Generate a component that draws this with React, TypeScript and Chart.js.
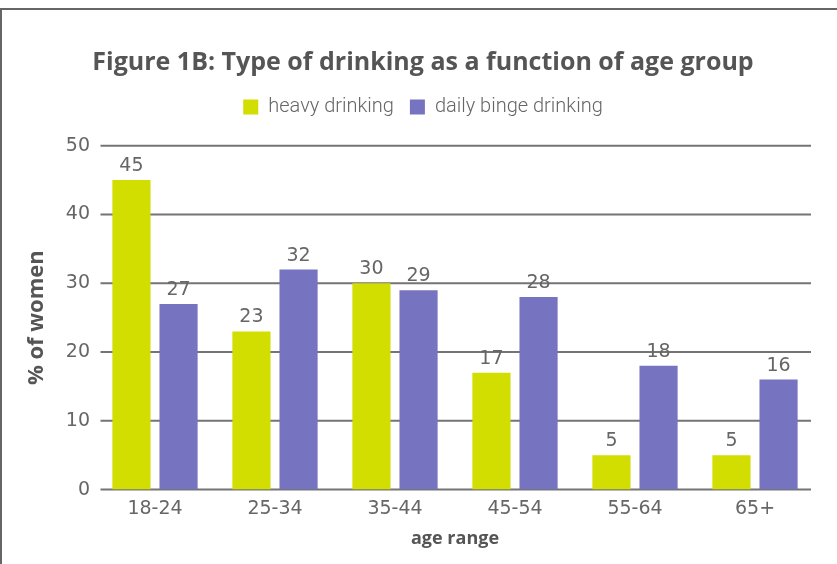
import React, { useEffect, useRef } from "react";
import { Chart, registerables } from "chart.js";

Chart.register(...registerables);

const categories = ["18-24", "25-34", "35-44", "45-54", "55-64", "65+"];
const heavyDrinking = [45, 23, 30, 17, 5, 5];
const dailyBinge = [27, 32, 29, 28, 18, 16];
const yTicks = [0, 10, 20, 30, 40, 50];
const seriesNames = ["heavy drinking", "daily binge drinking"];
const titleText = "Figure 1B: Type of drinking as a function of age group";

const YELLOW = "#d2de00";
const PURPLE = "#7673c0";
const NUM_FONT = "'DejaVu Sans', sans-serif";
const BOLD_FONT = "'Open Sans', sans-serif";

const gridPlugin = {
  id: "customGrid",
  beforeDatasetsDraw(chart: any) {
    const { ctx, chartArea, scales } = chart;
    const y = scales.y;
    ctx.save();
    ctx.strokeStyle = "#747474";
    ctx.lineWidth = 2;
    yTicks.forEach((t) => {
      const py = y.getPixelForValue(t);
      ctx.beginPath();
      ctx.moveTo(chartArea.left + 5.5, py);
      ctx.lineTo(chartArea.right - 4, py);
      ctx.stroke();
    });
    ctx.restore();
  },
};

const labelPlugin = {
  id: "valueLabels",
  afterDatasetsDraw(chart: any) {
    const { ctx } = chart;
    ctx.save();
    ctx.fillStyle = "#666";
    ctx.font = `19px ${NUM_FONT}`;
    ctx.textAlign = "center";
    ctx.textBaseline = "alphabetic";
    chart.data.datasets.forEach((ds: any, i: number) => {
      const meta = chart.getDatasetMeta(i);
      meta.data.forEach((bar: any, j: number) => {
        ctx.fillText(String(ds.data[j]), bar.x, bar.y - 9);
      });
    });
    ctx.restore();
  },
};

const legendSpacer = {
  id: "legendSpacer",
  afterInit(chart: any) {
    const legend = chart.legend;
    if (!legend) return;
    const origFit = legend.fit;
    legend.fit = function fit() {
      origFit.call(legend);
      legend.height += 18.7;
    };
  },
};

export default function App() {
  const ref = useRef<HTMLCanvasElement>(null);
  useEffect(() => {
    if (!ref.current) return;
    const chart = new Chart(ref.current, {
      type: "bar",
      data: {
        labels: categories,
        datasets: [
          {
            label: seriesNames[0],
            data: heavyDrinking,
            backgroundColor: YELLOW,
            categoryPercentage: 0.785,
            barPercentage: 0.81,
          },
          {
            label: seriesNames[1],
            data: dailyBinge,
            backgroundColor: PURPLE,
            categoryPercentage: 0.785,
            barPercentage: 0.81,
          },
        ],
      },
      options: {
        responsive: false,
        animation: false,
        layout: { padding: { left: 31, right: 22, top: 48, bottom: 14 } },
        plugins: {
          title: {
            display: true,
            text: titleText,
            color: "#555",
            font: { family: BOLD_FONT, weight: "bold", size: 25 },
            padding: { top: 0, bottom: 3 },
          },
          legend: {
            display: true,
            labels: {
              color: "#666",
              font: { family: "Roboto", weight: "300", size: 20 },
              boxWidth: 15,
              boxHeight: 15,
              padding: 16,
            },
          },
          tooltip: { enabled: false },
        },
        scales: {
          x: {
            grid: { display: false, drawTicks: false },
            border: { display: false },
            ticks: {
              color: "#666",
              font: { family: NUM_FONT, size: 19 },
              padding: 8,
            },
            title: {
              display: true,
              text: "age range",
              color: "#555",
              font: { family: BOLD_FONT, weight: "bold", size: 18 },
              padding: { top: 0, bottom: 0 },
            },
          },
          y: {
            min: 0,
            max: 50,
            afterBuildTicks: (scale: any) => {
              scale.ticks = yTicks.map((v) => ({ value: v }));
            },
            afterFit: (scale: any) => {
              scale.width = 64;
            },
            grid: { display: false, drawTicks: false },
            border: { display: false },
            ticks: {
              color: "#666",
              font: { family: NUM_FONT, size: 19 },
              padding: 5,
            },
            title: {
              display: true,
              text: "% of women",
              color: "#555",
              font: { family: BOLD_FONT, weight: "bold", size: 22 },
              padding: { top: -7.2, bottom: 0 },
            },
          },
        },
      },
      plugins: [gridPlugin, labelPlugin, legendSpacer],
    });
    return () => chart.destroy();
  }, []);

  return (
    <div
      style={{
        position: "fixed",
        left: 0,
        top: 0,
        width: 837,
        height: 564,
        overflow: "hidden",
        background: "#fff",
      }}
    >
      <div
        style={{
          position: "absolute",
          left: 0,
          top: 8,
          width: 1000,
          height: 800,
          borderTop: "2px solid #666",
          borderLeft: "2px solid #666",
        }}
      />
      <canvas
        ref={ref}
        width={837}
        height={564}
        style={{ position: "absolute", left: 0, top: 0 }}
      />
    </div>
  );
}
